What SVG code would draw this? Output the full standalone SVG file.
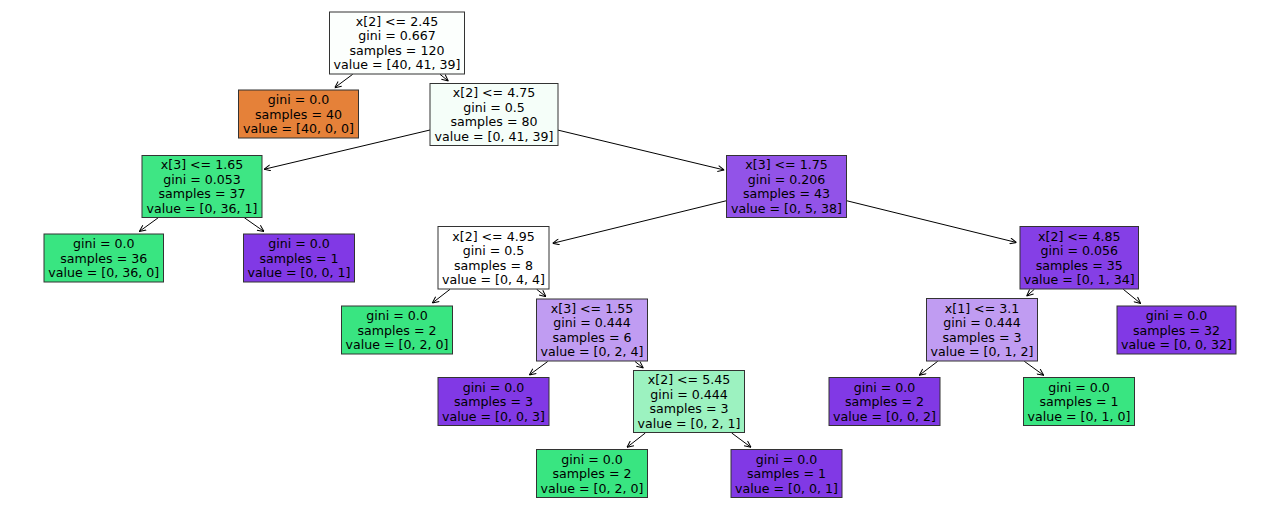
<svg xmlns="http://www.w3.org/2000/svg" width="1280" height="516" viewBox="0 0 1280 516">
<style>
.b{stroke:#333;stroke-width:1}
text{font-family:"DejaVu Sans",sans-serif;font-size:12.6px;fill:#000;text-anchor:middle}
.e line{stroke:#000;stroke-width:1;marker-end:url(#ah)}
.o{fill:#e58139}.g{fill:#39e581}.p{fill:#8139e5}
</style>
<defs>
<marker id="ah" viewBox="0 0 7 7" refX="7" refY="3.5" markerWidth="7" markerHeight="7" markerUnits="userSpaceOnUse" orient="auto">
<path d="M0.5,0.5 L7,3.5 L0.5,6.5" fill="none" stroke="#000" stroke-width="1"/>
</marker>
</defs>
<rect width="1280" height="516" fill="#fff"/>
<g class="e" id="edges">
<line x1="352.7" y1="74.3" x2="334.7" y2="87.7"/>
<line x1="440" y1="74.3" x2="448.3" y2="81"/>
<line x1="430" y1="130" x2="264" y2="169.3"/>
<line x1="557.5" y1="130" x2="724.3" y2="170"/>
<line x1="158.3" y1="217.7" x2="139.3" y2="231.5"/>
<line x1="244.3" y1="217.7" x2="264" y2="231.5"/>
<line x1="726.5" y1="200.7" x2="552.7" y2="243.3"/>
<line x1="846.5" y1="200.7" x2="1016.5" y2="242.5"/>
<line x1="450" y1="289.3" x2="432.3" y2="303"/>
<line x1="536.7" y1="289.3" x2="546" y2="296.7"/>
<line x1="547.7" y1="361.5" x2="529.3" y2="375"/>
<line x1="635" y1="361.5" x2="643.3" y2="368"/>
<line x1="645.3" y1="433" x2="627" y2="447.3"/>
<line x1="731.7" y1="433" x2="751" y2="447.3"/>
<line x1="1034.3" y1="289.3" x2="1026.7" y2="296"/>
<line x1="1123.3" y1="289.3" x2="1140.7" y2="303.5"/>
<line x1="937.7" y1="361.3" x2="919.3" y2="375.3"/>
<line x1="1024.3" y1="361.3" x2="1043.7" y2="375.3"/>
</g>
<g id="n0"><rect class="b" x="329.5" y="12" width="135" height="62" fill="#fcfffd"/>
<text x="397" y="25.75">x[2] &lt;= 2.45</text><text x="397" y="40.25">gini = 0.667</text><text x="397" y="54.75">samples = 120</text><text x="397" y="69.25">value = [40, 41, 39]</text></g>
<g id="n1"><rect class="b o" x="238.5" y="90" width="120" height="48"/>
<text x="298.5" y="104">gini = 0.0</text><text x="298.5" y="118.5">samples = 40</text><text x="298.5" y="133">value = [40, 0, 0]</text></g>
<g id="n2"><rect class="b" x="430" y="83.5" width="128" height="62" fill="#f5fef9"/>
<text x="494" y="97.25">x[2] &lt;= 4.75</text><text x="494" y="111.75">gini = 0.5</text><text x="494" y="126.25">samples = 80</text><text x="494" y="140.75">value = [0, 41, 39]</text></g>
<g id="n3"><rect class="b" x="142" y="155.5" width="120" height="62" fill="#3ee684"/>
<text x="202" y="169.25">x[3] &lt;= 1.65</text><text x="202" y="183.75">gini = 0.053</text><text x="202" y="198.25">samples = 37</text><text x="202" y="212.75">value = [0, 36, 1]</text></g>
<g id="n4"><rect class="b g" x="44" y="234" width="119.5" height="48"/>
<text x="103.75" y="248">gini = 0.0</text><text x="103.75" y="262.5">samples = 36</text><text x="103.75" y="277">value = [0, 36, 0]</text></g>
<g id="n5"><rect class="b p" x="243.5" y="234" width="111" height="48"/>
<text x="299" y="248">gini = 0.0</text><text x="299" y="262.5">samples = 1</text><text x="299" y="277">value = [0, 0, 1]</text></g>
<g id="n6"><rect class="b" x="726.5" y="155.5" width="120" height="62" fill="#9253e8"/>
<text x="786.5" y="169.25">x[3] &lt;= 1.75</text><text x="786.5" y="183.75">gini = 0.206</text><text x="786.5" y="198.25">samples = 43</text><text x="786.5" y="212.75">value = [0, 5, 38]</text></g>
<g id="n7"><rect class="b" x="438" y="226.5" width="111" height="62.5" fill="#ffffff"/>
<text x="493.5" y="240.5">x[2] &lt;= 4.95</text><text x="493.5" y="255">gini = 0.5</text><text x="493.5" y="269.5">samples = 8</text><text x="493.5" y="284">value = [0, 4, 4]</text></g>
<g id="n8"><rect class="b g" x="341.5" y="306" width="111" height="48"/>
<text x="397" y="320">gini = 0.0</text><text x="397" y="334.5">samples = 2</text><text x="397" y="349">value = [0, 2, 0]</text></g>
<g id="n9"><rect class="b" x="536.5" y="299" width="111" height="62" fill="#c09cf2"/>
<text x="592" y="312.75">x[3] &lt;= 1.55</text><text x="592" y="327.25">gini = 0.444</text><text x="592" y="341.75">samples = 6</text><text x="592" y="356.25">value = [0, 2, 4]</text></g>
<g id="n10"><rect class="b p" x="438" y="377.5" width="111" height="48"/>
<text x="493.5" y="391.5">gini = 0.0</text><text x="493.5" y="406">samples = 3</text><text x="493.5" y="420.5">value = [0, 0, 3]</text></g>
<g id="n11"><rect class="b" x="633.5" y="370.5" width="111" height="62" fill="#9cf2c0"/>
<text x="689" y="384.25">x[2] &lt;= 5.45</text><text x="689" y="398.75">gini = 0.444</text><text x="689" y="413.25">samples = 3</text><text x="689" y="427.75">value = [0, 2, 1]</text></g>
<g id="n12"><rect class="b g" x="536.5" y="449.5" width="111" height="48"/>
<text x="592" y="463.5">gini = 0.0</text><text x="592" y="478">samples = 2</text><text x="592" y="492.5">value = [0, 2, 0]</text></g>
<g id="n13"><rect class="b p" x="731" y="449.5" width="111" height="48"/>
<text x="786.5" y="463.5">gini = 0.0</text><text x="786.5" y="478">samples = 1</text><text x="786.5" y="492.5">value = [0, 0, 1]</text></g>
<g id="n14"><rect class="b" x="1020" y="226.5" width="118.5" height="62.5" fill="#853fe6"/>
<text x="1079.25" y="240.5">x[2] &lt;= 4.85</text><text x="1079.25" y="255">gini = 0.056</text><text x="1079.25" y="269.5">samples = 35</text><text x="1079.25" y="284">value = [0, 1, 34]</text></g>
<g id="n15"><rect class="b" x="926.5" y="298.5" width="111" height="62.5" fill="#c09cf2"/>
<text x="982" y="312.5">x[1] &lt;= 3.1</text><text x="982" y="327">gini = 0.444</text><text x="982" y="341.5">samples = 3</text><text x="982" y="356">value = [0, 1, 2]</text></g>
<g id="n16"><rect class="b p" x="829" y="377.5" width="111" height="48"/>
<text x="884.5" y="391.5">gini = 0.0</text><text x="884.5" y="406">samples = 2</text><text x="884.5" y="420.5">value = [0, 0, 2]</text></g>
<g id="n17"><rect class="b g" x="1023.5" y="377.5" width="111" height="48"/>
<text x="1079" y="391.5">gini = 0.0</text><text x="1079" y="406">samples = 1</text><text x="1079" y="420.5">value = [0, 1, 0]</text></g>
<g id="n18"><rect class="b p" x="1117" y="306" width="119" height="48"/>
<text x="1176.5" y="320">gini = 0.0</text><text x="1176.5" y="334.5">samples = 32</text><text x="1176.5" y="349">value = [0, 0, 32]</text></g>
</svg>
